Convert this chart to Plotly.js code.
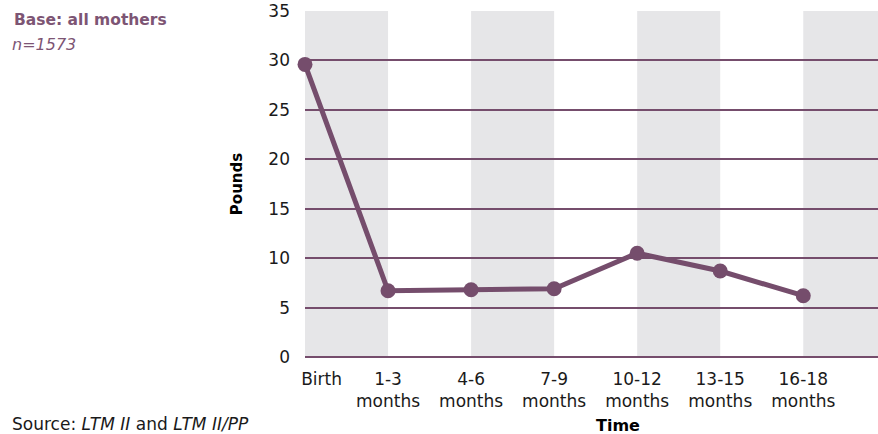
<!DOCTYPE html>
<html>
<head>
<meta charset="utf-8">
<script src="https://cdn.plot.ly/plotly-3.0.1.min.js"></script>
<style>
  html, body { margin: 0; padding: 0; background: #ffffff; }
  #chart { width: 878px; height: 434px; }
</style>
</head>
<body>
<div id="chart"></div>
<script>
// Average weight retained (pounds) over time since birth
const categories = ['Birth', '1-3 months', '4-6 months', '7-9 months', '10-12 months', '13-15 months', '16-18 months'];
const tickLabels = ['Birth', '1-3<br>months', '4-6<br>months', '7-9<br>months', '10-12<br>months', '13-15<br>months', '16-18<br>months'];
const pounds = [29.6, 6.7, 6.8, 6.9, 10.5, 8.7, 6.2];
const yTicks = [0, 5, 10, 15, 20, 25, 30, 35];

const PURPLE = '#754d6c';
const TEXT_PURPLE = '#7d5574';
const BAND = '#e6e6e8';
const FONT = 'DejaVu Sans, sans-serif';

const xIndex = categories.map((_, i) => i);

// alternate shaded columns, starting with the first interval
const bands = [];
for (let i = 0; i < categories.length; i += 2) {
  bands.push({
    type: 'rect', xref: 'x', yref: 'y',
    x0: i, x1: i + 1, y0: 0, y1: 35,
    fillcolor: BAND, line: { width: 0 }, layer: 'below'
  });
}

// the first label sits slightly inside the plot edge
const tickPos = xIndex.map(i => (i === 0 ? i + 0.2 : i));

const trace = {
  x: xIndex,
  y: pounds,
  type: 'scatter',
  mode: 'lines+markers',
  line: { color: PURPLE, width: 5 },
  marker: { color: PURPLE, size: 15 },
  cliponaxis: false,
  hoverinfo: 'skip',
  showlegend: false
};

const layout = {
  width: 878,
  height: 434,
  margin: { l: 305, r: 0, t: 11, b: 77 },
  paper_bgcolor: '#ffffff',
  plot_bgcolor: '#ffffff',
  font: { family: FONT, size: 16, color: '#1a1a1a' },
  shapes: bands,
  xaxis: {
    range: [0, 6.9],
    tickvals: tickPos,
    ticktext: tickLabels,
    showgrid: false,
    zeroline: false,
    showline: false,
    ticks: '',
    ticklabelstandoff: 10,
    tickfont: { family: FONT, size: 17, color: '#1a1a1a' },
    fixedrange: true
  },
  yaxis: {
    range: [0, 35],
    tickvals: yTicks,
    showgrid: true,
    gridcolor: PURPLE,
    gridwidth: 2,
    zeroline: true,
    zerolinecolor: PURPLE,
    zerolinewidth: 2,
    showline: false,
    ticks: '',
    ticklabelstandoff: 14,
    tickfont: { family: FONT, size: 17, color: '#1a1a1a' },
    title: { text: '<b>Pounds</b>', font: { family: FONT, size: 15, color: '#000000' }, standoff: 22 },
    fixedrange: true
  },
  annotations: [
    {
      text: '<b>Base: all mothers</b>',
      xref: 'paper', yref: 'paper', x: -0.511, y: 0.973,
      xanchor: 'left', yanchor: 'middle', showarrow: false,
      font: { family: FONT, size: 15.5, color: TEXT_PURPLE }
    },
    {
      text: '<i>n=1573</i>',
      xref: 'paper', yref: 'paper', x: -0.514, y: 0.902,
      xanchor: 'left', yanchor: 'middle', showarrow: false,
      font: { family: FONT, size: 16, color: TEXT_PURPLE }
    },
    {
      text: 'Source: <i>LTM II</i> and <i>LTM II/PP</i>',
      xref: 'paper', yref: 'paper', x: -0.514, y: -0.194,
      xanchor: 'left', yanchor: 'middle', showarrow: false,
      font: { family: FONT, size: 17, color: '#1a1a1a' }
    },
    {
      // x-axis title, set right of centre
      text: '<b>Time</b>',
      xref: 'paper', yref: 'paper', x: 0.546, y: -0.198,
      xanchor: 'center', yanchor: 'middle', showarrow: false,
      font: { family: FONT, size: 16, color: '#000000' }
    }
  ]
};

Plotly.newPlot('chart', [trace], layout, { displayModeBar: false, staticPlot: true });
</script>
</body>
</html>
